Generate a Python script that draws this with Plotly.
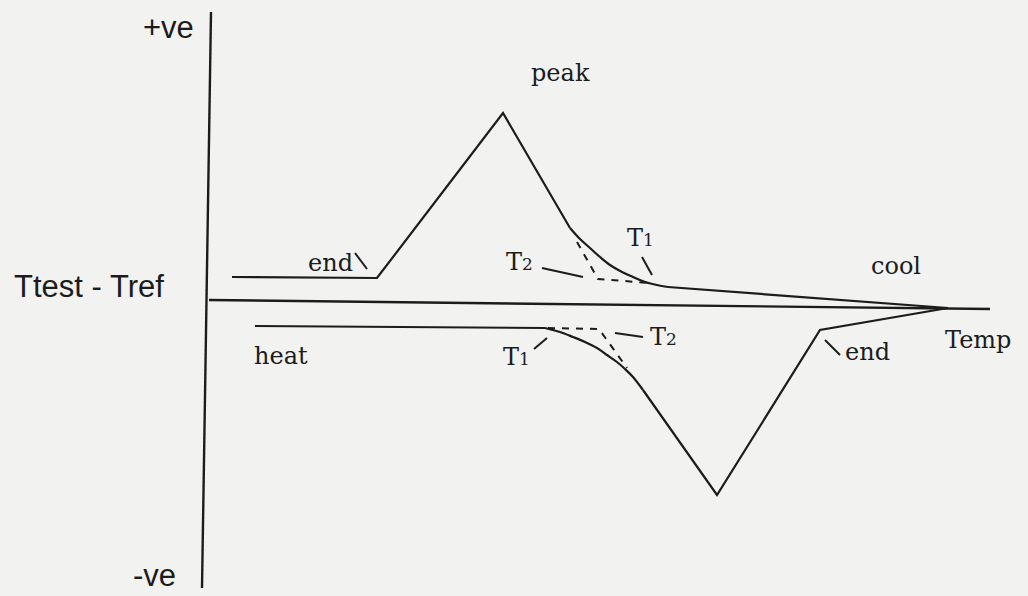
import plotly.graph_objects as go

# Schematic DTA trace: temperature along x, T_test - T_ref along y (0 = baseline)

# axes
yaxis_line_x = [211, 202]
yaxis_line_y = [288, -288]
baseline_x = [209, 990]
baseline_y = [0, -9]

# cooling run (exothermic peak above the baseline)
cool_rise_x = [232, 377, 503, 570]
cool_rise_y = [23, 22, 187, 72]
cool_bend_x = [570, 580, 590, 600, 610, 622, 633, 645, 657, 668]
cool_bend_y = [72, 61, 52, 43, 35, 28, 23, 18, 15, 13]
cool_tail_x = [668, 948]
cool_tail_y = [13, -8]
cool_ext_x = [577, 598, 650]
cool_ext_y = [58, 21, 17]

# heating run (endothermic peak below the baseline)
heat_start_x = [255, 545]
heat_start_y = [-26, -28]
heat_bend_x = [545, 560, 573, 585, 597, 607, 617, 625, 633, 643]
heat_bend_y = [-28, -32, -37, -42, -48, -55, -62, -69, -77, -90]
heat_fall_x = [643, 717, 820, 948]
heat_fall_y = [-90, -195, -30, -8]
heat_ext_x = [548, 599, 627]
heat_ext_y = [-28, -29, -68]

# short pointer strokes next to the labels
pointers = {
    "cool_end": ([355, 367], [47, 31]),
    "cool_t2": ([542, 583], [32, 23]),
    "cool_t1": ([642, 652], [43, 25]),
    "heat_t1": ([534, 547], [-49, -38]),
    "heat_t2": ([615, 643], [-33, -37]),
    "heat_end": ([825, 840], [-40, -55]),
}

# labels: text, x, y, font family, vertical anchor
sans = "Liberation Sans"
serif = "DejaVu Serif"
small = "<span style='font-size:17px'>%s</span>"
label_text = ["+ve", "-ve", "Ttest - Tref", "peak", "end", "T" + small % "2",
              "T" + small % "1", "cool", "Temp", "end", "heat",
              "T" + small % "1", "T" + small % "2"]
label_x = [168, 154, 89, 560, 330, 519, 640, 896, 978, 867, 281, 516, 663]
label_y = [273, -295, 14, 227, 37, 38, 62, 34, -40, -52, -56, -57, -37]
label_font = [sans, sans, sans, serif, serif, serif, serif, serif, serif,
              serif, serif, serif, serif]
label_anchor = ["middle", "bottom"] + ["middle"] * 11

ink = "#1c1c1c"
fig = go.Figure()


def add_line(x, y, width=2.2, dash="solid", shape="linear"):
    fig.add_trace(go.Scatter(x=x, y=y, mode="lines",
                             line=dict(color=ink, width=width, dash=dash,
                                       shape=shape),
                             hoverinfo="skip", showlegend=False))


add_line(yaxis_line_x, yaxis_line_y, 2.4)
add_line(baseline_x, baseline_y, 2.4)
add_line(cool_rise_x, cool_rise_y)
add_line(cool_bend_x, cool_bend_y, shape="spline")
add_line(cool_tail_x, cool_tail_y)
add_line(heat_start_x, heat_start_y)
add_line(heat_bend_x, heat_bend_y, shape="spline")
add_line(heat_fall_x, heat_fall_y)
add_line(cool_ext_x, cool_ext_y, 2, "7px,7px")
add_line(heat_ext_x, heat_ext_y, 2, "7px,7px")
for px, py in pointers.values():
    add_line(px, py, 2)

for t, x, y, f, a in zip(label_text, label_x, label_y, label_font,
                         label_anchor):
    fig.add_annotation(x=x, y=y, text=t, showarrow=False,
                       xanchor="center", yanchor=a,
                       font=dict(family=f, size=24 if f == serif else 31,
                                 color=ink))

fig.update_xaxes(range=[0, 1028], visible=False, fixedrange=True)
fig.update_yaxes(range=[-296, 300], visible=False, fixedrange=True)
fig.update_layout(width=1028, height=596,
                  margin=dict(l=0, r=0, t=0, b=0),
                  paper_bgcolor="#f2f2f1", plot_bgcolor="#f2f2f1")

fig.write_html("out.html")
